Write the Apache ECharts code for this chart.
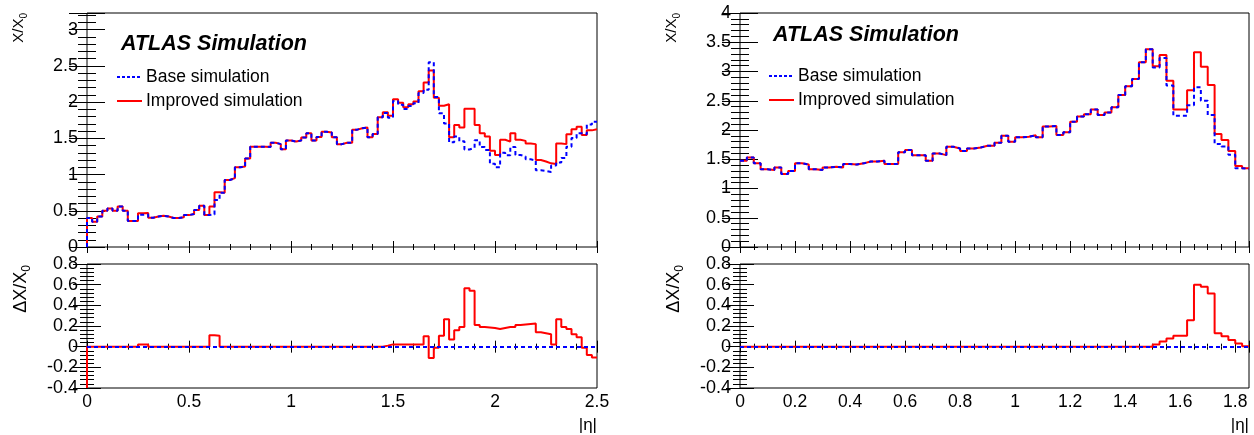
<!DOCTYPE html>
<html>
<head>
<meta charset="utf-8">
<script src="https://cdn.jsdelivr.net/npm/echarts@6/dist/echarts.min.js"></script>
<style>
html,body{margin:0;padding:0;background:#fff;}
#chart{width:1254px;height:435px;}
</style>
</head>
<body>
<div id="chart"></div>
<script>
// ---------------- DATA ----------------
const binWidth = 0.025;

// Left panel (|eta| 0 - 2.5)
const leftImproved = [
 0.40,0.35,0.42,0.50,0.53,0.50,0.56,0.50,0.36,0.36,
 0.465,0.47,0.405,0.42,0.43,0.42,0.40,0.40,0.41,0.44,
 0.455,0.51,0.57,0.44,0.56,0.755,0.75,0.925,0.95,1.10,
 1.11,1.22,1.385,1.385,1.385,1.38,1.44,1.42,1.35,1.47,
 1.455,1.47,1.51,1.57,1.47,1.52,1.59,1.58,1.515,1.42,
 1.44,1.44,1.62,1.64,1.65,1.515,1.56,1.79,1.86,1.81,
 2.04,1.99,1.93,1.97,2.01,2.15,2.27,2.435,2.06,1.95,
 1.97,1.515,1.685,1.65,1.91,1.91,1.685,1.57,1.525,1.33,
 1.27,1.48,1.455,1.57,1.48,1.465,1.43,1.42,1.20,1.18,
 1.155,1.145,1.43,1.42,1.555,1.625,1.66,1.545,1.61,1.625
];
const leftBase = [
 0.40,0.35,0.42,0.50,0.53,0.50,0.56,0.50,0.36,0.36,
 0.445,0.45,0.405,0.42,0.43,0.42,0.40,0.40,0.41,0.44,
 0.455,0.51,0.57,0.44,0.45,0.65,0.75,0.925,0.95,1.10,
 1.11,1.22,1.385,1.385,1.385,1.38,1.44,1.42,1.35,1.47,
 1.455,1.47,1.51,1.57,1.47,1.52,1.59,1.58,1.515,1.42,
 1.44,1.44,1.62,1.64,1.65,1.515,1.56,1.79,1.85,1.785,
 2.015,1.965,1.905,1.945,1.985,2.125,2.17,2.55,2.07,1.845,
 1.705,1.445,1.525,1.46,1.345,1.37,1.475,1.38,1.34,1.15,
 1.10,1.30,1.265,1.38,1.27,1.25,1.21,1.195,1.06,1.05,
 1.035,1.125,1.165,1.23,1.385,1.505,1.57,1.555,1.69,1.73
];
const leftDelta = [
 0,0,0,0,0,0,0,0,0,0,
 0.02,0.02,0,0,0,0,0,0,0,0,
 0,0,0,0,0.11,0.105,0,0,0,0,
 0,0,0,0,0,0,0,0,0,0,
 0,0,0,0,0,0,0,0,0,0,
 0,0,0,0,0,0,0,0,0.01,0.022,
 0.022,0.022,0.022,0.022,0.022,0.022,0.10,-0.11,-0.01,0.105,
 0.265,0.07,0.16,0.19,0.565,0.54,0.21,0.19,0.185,0.18,
 0.17,0.18,0.19,0.19,0.21,0.215,0.22,0.225,0.14,0.13,
 0.12,0.02,0.265,0.19,0.17,0.12,0.09,-0.01,-0.08,-0.105
];
const leftMainStart = 0;      // histogram edge drawn from the frame bottom
const leftDeltaStart = -0.4;

// Right panel (|eta| 0 - 1.85)
const rightImproved = [
 1.475,1.53,1.43,1.33,1.315,1.36,1.25,1.30,1.43,1.41,
 1.33,1.315,1.36,1.37,1.36,1.42,1.41,1.43,1.46,1.46,
 1.475,1.42,1.42,1.62,1.66,1.57,1.57,1.475,1.60,1.57,
 1.715,1.685,1.64,1.685,1.70,1.73,1.73,1.78,1.90,1.80,
 1.875,1.885,1.91,1.875,2.06,2.07,1.915,1.96,2.14,2.23,
 2.27,2.35,2.255,2.30,2.39,2.60,2.75,2.87,3.16,3.38,
 3.09,3.28,2.84,2.35,2.35,2.68,3.33,3.08,2.77,1.93,
 1.83,1.64,1.385,1.345
];
const rightBase = [
 1.475,1.53,1.43,1.33,1.315,1.36,1.25,1.30,1.43,1.41,
 1.33,1.315,1.36,1.37,1.36,1.42,1.41,1.43,1.46,1.46,
 1.475,1.42,1.42,1.62,1.66,1.57,1.57,1.475,1.60,1.57,
 1.715,1.685,1.64,1.685,1.70,1.73,1.73,1.78,1.90,1.80,
 1.875,1.885,1.91,1.875,2.06,2.07,1.915,1.96,2.14,2.23,
 2.27,2.35,2.255,2.30,2.39,2.60,2.75,2.87,3.16,3.38,
 3.07,3.23,2.76,2.245,2.245,2.425,2.73,2.50,2.255,1.76,
 1.72,1.575,1.345,1.335
];
const rightDelta = [
 0,0,0,0,0,0,0,0,0,0,
 0,0,0,0,0,0,0,0,0,0,
 0,0,0,0,0,0,0,0,0,0,
 0,0,0,0,0,0,0,0,0,0,
 0,0,0,0,0,0,0,0,0,0,
 0,0,0,0,0,0,0,0,0,0,
 0.02,0.05,0.08,0.105,0.105,0.255,0.60,0.58,0.515,0.13,
 0.10,0.065,0.03,0.005
];

// Tick labels
const leftXLabels = [0, 0.5, 1, 1.5, 2, 2.5];
const rightXLabels = [0, 0.2, 0.4, 0.6, 0.8, 1, 1.2, 1.4, 1.6, 1.8];
const leftMainYLabels = [0, 0.5, 1, 1.5, 2, 2.5, 3];
const rightMainYLabels = [0, 0.5, 1, 1.5, 2, 2.5, 3, 3.5, 4];
const ratioYLabels = [-0.4, -0.2, 0, 0.2, 0.4, 0.6, 0.8];

// ---------------- CHART ----------------
const FONT = "'Liberation Sans', Arial, Helvetica, sans-serif";
const RED = '#ff0000', BLUE = '#0000ff';

function steps(vals, w, start) {
  const pts = [];
  if (start !== undefined) pts.push([0, start]);
  vals.forEach((v, i) => { pts.push([i * w, v]); pts.push([(i + 1) * w, v]); });
  return pts;
}
function fmt(v) { return String(+(+v).toFixed(3)); }
function labelFilter(list) {
  return v => list.some(l => Math.abs(l - v) < 1e-6) ? fmt(v) : '';
}

const grids = [
  {left: 87, top: 13, width: 510, height: 234},
  {left: 87, top: 264, width: 510, height: 124},
  {left: 740, top: 13, width: 509, height: 234},
  {left: 740, top: 264, width: 509, height: 124}
];

const axisCfg = [
  {xMax: 2.5, xMaj: 0.5, xMin: 0.1, xLabels: leftXLabels, xShow: false,
   yMin: 0, yMax: 3.23, yMaj: 0.5, yMinr: 0.1, yLabels: leftMainYLabels, yLen: 18, yMinLen: 9},
  {xMax: 2.5, xMaj: 0.5, xMin: 0.1, xLabels: leftXLabels, xShow: true,
   yMin: -0.4, yMax: 0.8, yMaj: 0.2, yMinr: 0.04, yLabels: ratioYLabels, yLen: 14, yMinLen: 7},
  {xMax: 1.85, xMaj: 0.2, xMin: 0.05, xLabels: rightXLabels, xShow: false,
   yMin: 0, yMax: 4, yMaj: 0.5, yMinr: 0.1, yLabels: rightMainYLabels, yLen: 18, yMinLen: 9},
  {xMax: 1.85, xMaj: 0.2, xMin: 0.05, xLabels: rightXLabels, xShow: true,
   yMin: -0.4, yMax: 0.8, yMaj: 0.2, yMinr: 0.04, yLabels: ratioYLabels, yLen: 14, yMinLen: 7}
];

const xAxes = [], yAxes = [];
const tickLine = {color: '#000', width: 1};
axisCfg.forEach((c, gi) => {
  const cx = {type: 'value', gridIndex: gi, min: 0, max: c.xMax,
    splitLine: {show: false}, axisLine: {show: false}};
  ['bottom', 'top'].forEach(pos => {
    xAxes.push(Object.assign({}, cx, {position: pos, interval: c.xMaj,
      axisTick: {show: true, inside: true, length: 6, lineStyle: tickLine},
      axisLabel: (pos === 'bottom' && c.xShow) ? {show: true, margin: 5, fontSize: 17.5, color: '#000',
        fontFamily: FONT, formatter: labelFilter(c.xLabels), showMinLabel: true, showMaxLabel: true}
        : {show: false}}));
    xAxes.push(Object.assign({}, cx, {position: pos, interval: c.xMin,
      axisTick: {show: true, inside: true, length: 3, lineStyle: tickLine},
      axisLabel: {show: false}}));
  });
  const cy = {type: 'value', gridIndex: gi, min: c.yMin, max: c.yMax,
    splitLine: {show: false}, axisLine: {show: false}};
  ['left', 'right'].forEach(pos => {
    yAxes.push(Object.assign({}, cy, {position: pos, interval: c.yMaj,
      axisTick: {show: true, inside: true, length: c.yLen, lineStyle: tickLine},
      axisLabel: pos === 'left' ? {show: true, margin: 9, fontSize: 18, color: '#000',
        fontFamily: FONT, formatter: labelFilter(c.yLabels), showMinLabel: true, showMaxLabel: true}
        : {show: false}}));
    yAxes.push(Object.assign({}, cy, {position: pos, interval: c.yMinr,
      axisTick: {show: true, inside: true, length: c.yMinLen, lineStyle: tickLine},
      axisLabel: {show: false}}));
  });
});

function lineSeries(gi, data, color, dashed, extra) {
  return Object.assign({
    type: 'line', xAxisIndex: gi * 4, yAxisIndex: gi * 4, data: data,
    symbol: 'none', showSymbol: false, animation: false, clip: true,
    lineStyle: {color: color, width: 2, type: dashed ? [4, 3] : 'solid'},
    silent: true
  }, extra || {});
}
function zeroLine() {
  return {silent: true, symbol: 'none', animation: false, label: {show: false},
    lineStyle: {color: BLUE, width: 2, type: [4, 3]}, data: [{yAxis: 0}]};
}

const series = [
  lineSeries(0, steps(leftImproved, binWidth, leftMainStart), RED, false),
  lineSeries(0, steps(leftBase, binWidth, leftMainStart), BLUE, true),
  lineSeries(1, steps(leftDelta, binWidth, leftDeltaStart), RED, false, {markLine: zeroLine()}),
  lineSeries(2, steps(rightImproved, binWidth), RED, false),
  lineSeries(2, steps(rightBase, binWidth), BLUE, true),
  lineSeries(3, steps(rightDelta, binWidth), RED, false, {markLine: zeroLine()})
];

function titleText(x, y, main, sub, size, subSize) {
  return {type: 'text', x: x, y: y, rotation: Math.PI / 2, silent: true,
    style: {text: '{a|' + main + '}{s|' + sub + '}', align: 'right', verticalAlign: 'middle',
      rich: {a: {fontSize: size, fontFamily: FONT, fill: '#000', lineHeight: size + 6},
             s: {fontSize: subSize, fontFamily: FONT, fill: '#000', lineHeight: size + 6, verticalAlign: 'bottom'}}}};
}
function legend(x0, yBase, yImp, textX) {
  return [
    {type: 'line', silent: true, shape: {x1: x0, y1: yBase, x2: x0 + 25, y2: yBase},
     style: {stroke: BLUE, lineWidth: 2, lineDash: [3, 2]}},
    {type: 'text', x: textX, y: yBase, silent: true, style: {text: 'Base simulation', font: '17.5px ' + FONT,
     fill: '#000', verticalAlign: 'middle'}},
    {type: 'line', silent: true, shape: {x1: x0, y1: yImp, x2: x0 + 25, y2: yImp},
     style: {stroke: RED, lineWidth: 2}},
    {type: 'text', x: textX, y: yImp, silent: true, style: {text: 'Improved simulation', font: '17.5px ' + FONT,
     fill: '#000', verticalAlign: 'middle'}}
  ];
}

const graphic = [
  {type: 'text', x: 121, y: 44, silent: true, style: {text: 'ATLAS Simulation',
    font: 'italic bold 21.5px ' + FONT, fill: '#000', verticalAlign: 'middle'}},
  {type: 'text', x: 773, y: 35, silent: true, style: {text: 'ATLAS Simulation',
    font: 'italic bold 21.5px ' + FONT, fill: '#000', verticalAlign: 'middle'}},
  ...legend(117, 77, 101, 146),
  ...legend(769, 76, 100, 798),
  titleText(19, 13, 'X/X', '0', 15, 10),
  titleText(21, 265, '\u0394X/X', '0', 18, 12),
  titleText(672, 13, 'X/X', '0', 15, 10),
  titleText(674, 265, '\u0394X/X', '0', 18, 12),
  {type: 'text', x: 597, y: 425, silent: true, style: {text: '|\u03b7|', font: '17px ' + FONT,
    fill: '#000', align: 'right', verticalAlign: 'middle'}},
  {type: 'text', x: 1249, y: 425, silent: true, style: {text: '|\u03b7|', font: '17px ' + FONT,
    fill: '#000', align: 'right', verticalAlign: 'middle'}}
];

const chart = echarts.init(document.getElementById('chart'), null, {renderer: 'canvas'});
chart.setOption({
  animation: false,
  backgroundColor: '#fff',
  grid: grids.map(g => Object.assign({show: true, borderColor: '#000', borderWidth: 1,
    backgroundColor: 'transparent', containLabel: false}, g)),
  xAxis: xAxes,
  yAxis: yAxes,
  series: series,
  graphic: graphic
});
</script>
</body>
</html>
